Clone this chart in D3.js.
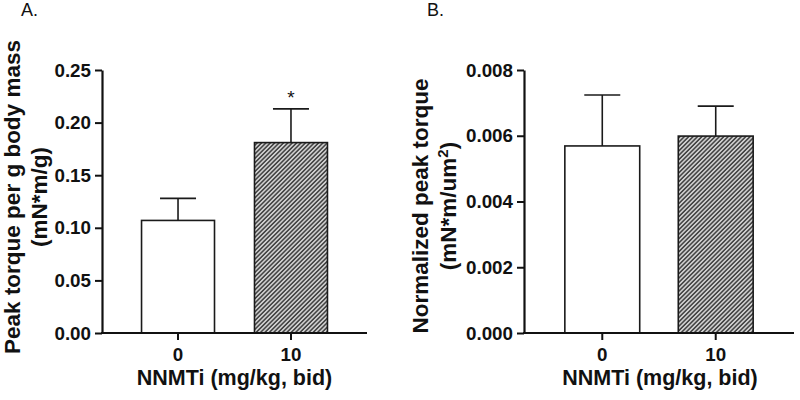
<!DOCTYPE html>
<html><head><meta charset="utf-8">
<script src="https://cdn.jsdelivr.net/npm/d3@7"></script>
<style>
html,body{margin:0;padding:0;background:#fff;}
svg{display:block;}
text{font-family:"Liberation Sans",Arial,sans-serif;fill:#111;}
</style></head>
<body>
<svg id="chart" width="800" height="400"></svg>
<script>
// ---- data ----
const categories = ["0", "10"];
const torqueA = [0.107, 0.181];        // Peak torque per g body mass
const semA = [0.021, 0.032];
const torqueB = [0.00569, 0.00599];    // Normalized peak torque
const semB = [0.00155, 0.00091];
const ticksA = [0, 0.05, 0.10, 0.15, 0.20, 0.25];
const ticksB = [0, 0.002, 0.004, 0.006, 0.008];
const significance = ["", "*"];
const fills = ["#ffffff", "url(#hatch)"];

const svg = d3.select("#chart");
const defs = svg.append("defs");
const pat = defs.append("pattern").attr("id", "hatch")
  .attr("patternUnits", "userSpaceOnUse").attr("width", 3.1).attr("height", 10)
  .attr("patternTransform", "rotate(45)");
pat.append("rect").attr("width", 3.1).attr("height", 10).attr("fill", "#cfcfcf");
pat.append("line").attr("x1", 0.8).attr("x2", 0.8).attr("y1", 0).attr("y2", 10)
  .attr("stroke", "#2b2b2b").attr("stroke-width", 1.3);

function panel(cfg) {
  const g = svg.append("g");
  const x = d3.scaleBand().domain(categories).range([cfg.x0, cfg.x1])
    .paddingInner(cfg.pi).paddingOuter(cfg.po);
  const y = d3.scaleLinear().domain(cfg.domain).range([333, 70]);

  // bars
  g.selectAll("rect.bar").data(categories).join("rect").attr("class", "bar")
    .attr("x", d => x(d)).attr("width", x.bandwidth())
    .attr("y", (d, i) => y(cfg.values[i]))
    .attr("height", (d, i) => y(0) - y(cfg.values[i]))
    .attr("fill", (d, i) => fills[i]).attr("stroke", "#1a1a1a").attr("stroke-width", 1.6);

  // error bars
  const cap = 36;
  categories.forEach((c, i) => {
    const cx = x(c) + x.bandwidth() / 2;
    const top = y(cfg.values[i] + cfg.sem[i]);
    g.append("line").attr("x1", cx).attr("x2", cx)
      .attr("y1", y(cfg.values[i])).attr("y2", top)
      .attr("stroke", "#1a1a1a").attr("stroke-width", 1.6);
    g.append("line").attr("x1", cx - cap / 2).attr("x2", cx + cap / 2)
      .attr("y1", top).attr("y2", top)
      .attr("stroke", "#1a1a1a").attr("stroke-width", 1.6);
    if (cfg.sig && cfg.sig[i]) {
      g.append("text").attr("x", cx).attr("y", top - 5)
        .attr("text-anchor", "middle").attr("font-size", 19)
        .text(cfg.sig[i]);
    }
  });

  // y axis
  const ya = g.append("g").attr("transform", `translate(${cfg.x0},0)`)
    .call(d3.axisLeft(y).tickValues(cfg.ticks).tickFormat(d3.format(cfg.fmt))
      .tickSize(7).tickSizeOuter(0).tickPadding(4));
  ya.select(".domain").attr("stroke", "#111").attr("stroke-width", 2.2);
  ya.selectAll(".tick line").attr("stroke", "#111").attr("stroke-width", 2);
  ya.selectAll(".tick text").attr("font-size", 18.8).attr("font-weight", "bold")
    .attr("fill", "#111").attr("font-family", "Liberation Sans, Arial, sans-serif");

  // x axis
  const xa = g.append("g").attr("transform", `translate(0,${y(0)})`)
    .call(d3.axisBottom(x).tickSize(7).tickSizeOuter(0).tickPadding(8));
  xa.select(".domain").attr("stroke", "#111").attr("stroke-width", 2.2)
    .attr("d", `M${cfg.x0 - 1},0H${cfg.x1}`);
  xa.selectAll(".tick line").attr("stroke", "#111").attr("stroke-width", 2);
  xa.selectAll(".tick text").attr("font-size", 18.8).attr("font-weight", "bold")
    .attr("fill", "#111").attr("font-family", "Liberation Sans, Arial, sans-serif");

  // x title
  g.append("text").attr("x", (cfg.x0 + cfg.x1) / 2 + cfg.xtOff).attr("y", 385)
    .attr("text-anchor", "middle").attr("font-size", 21.5).attr("font-weight", "bold")
    .text("NNMTi (mg/kg, bid)");

  // y title
  const yt = g.append("text").attr("transform", `translate(${cfg.yt1},${cfg.ytc}) rotate(-90)`)
    .attr("text-anchor", "middle").attr("font-size", 22.5).attr("font-weight", "bold");
  yt.append("tspan").attr("x", 0).attr("y", 0).text(cfg.title1);
  const t2 = yt.append("tspan").attr("x", 0).attr("y", cfg.yt2 - cfg.yt1);
  cfg.title2(t2, yt);

  // panel label
  g.append("text").attr("x", cfg.lx).attr("y", 16)
    .attr("font-family", "Open Sans, sans-serif").attr("font-size", 18)
    .text(cfg.label);
}

panel({
  x0: 102, x1: 367, pi: 0.354, po: 0.35, domain: [0, 0.25],
  values: torqueA, sem: semA, ticks: ticksA, fmt: ".2f", sig: significance,
  xtOff: 0, yt1: 20, yt2: 47, ytc: 197,
  title1: "Peak torque per g body mass",
  title2: (t) => t.text("(mN*m/g)"),
  label: "A.", lx: 21
});

panel({
  x0: 524, x1: 794, pi: 0.34, po: 0.36, domain: [0, 0.008],
  values: torqueB, sem: semB, ticks: ticksB, fmt: ".3f", sig: null,
  xtOff: 1, yt1: 428, yt2: 456, ytc: 206,
  title1: "Normalized peak torque",
  title2: (t, yt) => {
    t.text("(mN*m/um");
    yt.append("tspan").attr("dy", -8).attr("font-size", 15).text("2");
    yt.append("tspan").attr("dy", 8).text(")");
  },
  label: "B.", lx: 427
});
</script>
</body></html>
